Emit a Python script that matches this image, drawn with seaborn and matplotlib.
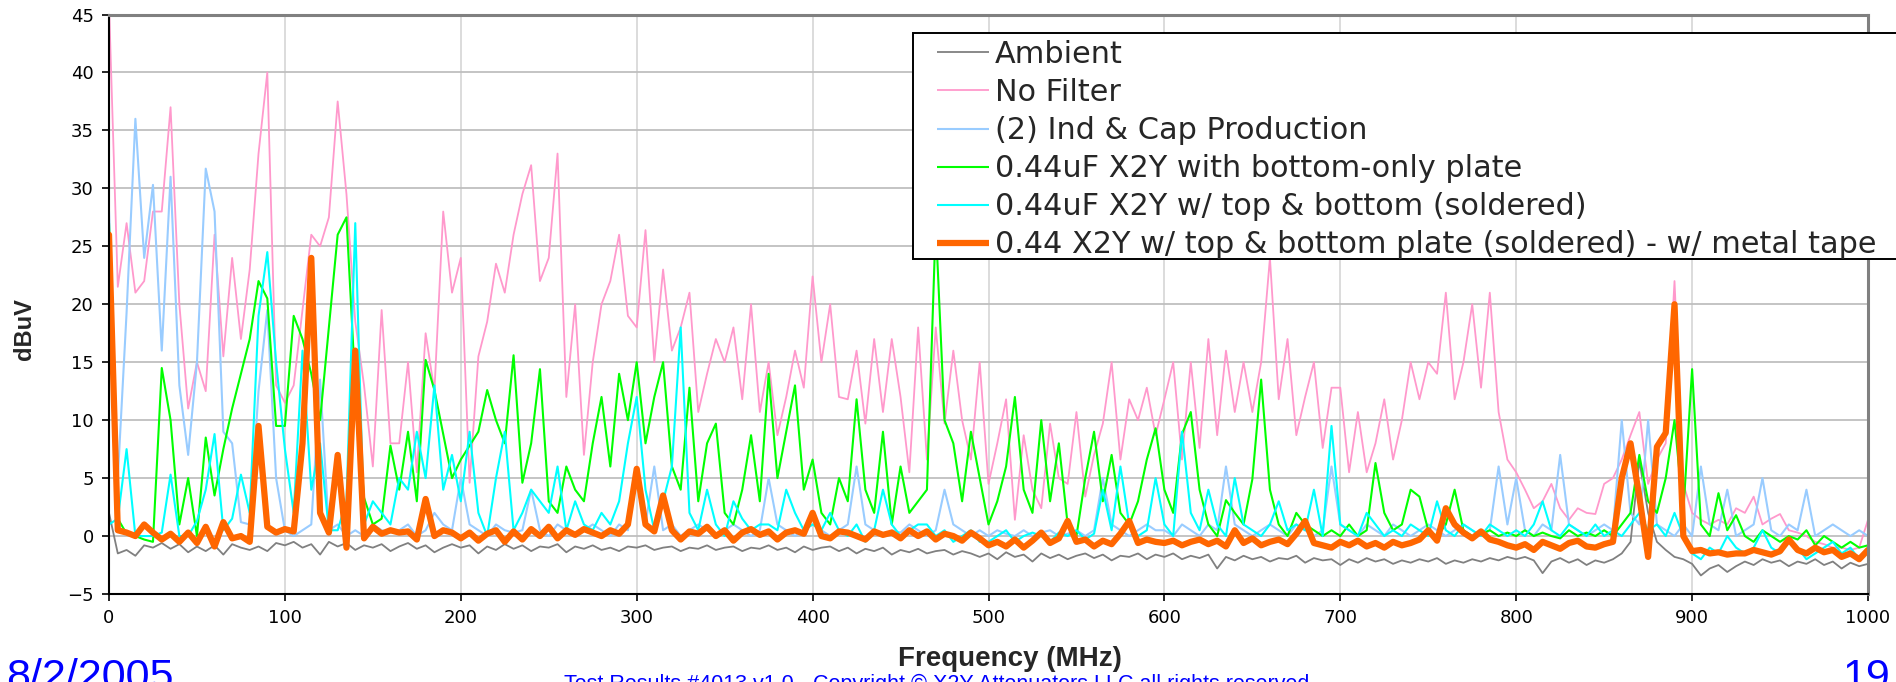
import numpy as np
import pandas as pd
import matplotlib
matplotlib.use("Agg")
import matplotlib.pyplot as plt
import matplotlib.patches as mpatches
import seaborn as sns

# ---------------- data (dBuV, 5 MHz steps, 0..1000 MHz) ----------------
freq_mhz = np.arange(0, 1001, 5)

ambient = [
    2.0, -1.5, -1.2, -1.7, -0.8, -1.0, -0.6, -1.1, -0.7, -1.4, -0.9, -1.3, -0.8, -1.6, -0.7, -1.0, -1.2, -0.9, -1.3, -0.6,
    -0.8, -0.5, -1.0, -0.7, -1.6, -0.5, -0.9, -0.6, -1.2, -0.8, -1.0, -0.7, -1.3, -0.9, -0.6, -1.1, -0.8, -1.4, -1.0, -0.7,
    -1.0, -0.8, -1.5, -0.9, -1.2, -0.7, -1.1, -0.8, -1.3, -0.9, -1.0, -0.7, -1.4, -0.9, -1.1, -0.8, -1.2, -1.0, -1.3, -0.9,
    -1.0, -0.8, -1.2, -1.0, -0.9, -1.3, -1.0, -1.1, -0.8, -1.2, -1.0, -0.9, -1.3, -1.0, -1.1, -0.8, -1.2, -1.0, -1.4, -0.9,
    -1.2, -1.0, -0.9, -1.3, -1.0, -1.5, -1.1, -1.3, -1.0, -1.6, -1.2, -1.4, -1.1, -1.5, -1.3, -1.2, -1.6, -1.3, -1.5, -1.8,
    -1.5, -2.0, -1.4, -1.8, -1.6, -2.2, -1.5, -1.9, -1.6, -2.0, -1.7, -1.5, -1.9, -1.6, -2.1, -1.7, -1.8, -1.5, -2.0, -1.6,
    -1.8, -1.5, -2.0, -1.7, -1.9, -1.6, -2.8, -1.8, -2.1, -1.7, -2.0, -1.8, -2.2, -1.9, -2.0, -1.7, -2.3, -1.9, -2.1, -2.0,
    -2.5, -2.0, -2.3, -1.9, -2.2, -2.0, -2.4, -2.1, -2.3, -2.0, -2.2, -1.9, -2.4, -2.1, -2.3, -2.0, -2.2, -1.9, -2.1, -1.8,
    -2.0, -1.8, -2.1, -3.2, -2.2, -1.9, -2.3, -2.0, -2.5, -2.1, -2.3, -2.0, -1.5, -0.5, 6.5, 2.0, -0.5, -1.2, -1.8, -2.0,
    -2.4, -3.4, -2.8, -2.5, -3.1, -2.6, -2.2, -2.5, -2.0, -2.3, -2.1, -2.6, -2.2, -2.4, -2.0, -2.5, -2.2, -2.8, -2.3, -2.6,
    -2.4,
]

no_filter = [
    46.0, 21.5, 27.0, 21.0, 22.0, 28.0, 28.0, 37.0, 20.0, 11.0, 15.0, 12.5, 26.0, 15.5, 24.0, 17.0, 23.0, 33.0, 40.0, 13.0,
    11.5, 13.0, 19.5, 26.0, 25.0, 27.5, 37.5, 29.5, 18.5, 13.0, 6.0, 19.5, 8.0, 8.0, 15.0, 5.5, 17.5, 12.5, 28.0, 21.0,
    24.0, 4.6, 15.5, 18.5, 23.5, 21.0, 26.0, 29.5, 32.0, 22.0, 24.0, 33.0, 12.0, 20.0, 7.0, 15.0, 20.0, 22.0, 26.0, 19.0,
    18.0, 26.4, 15.0, 23.0, 16.0, 18.0, 21.0, 10.7, 14.0, 17.0, 15.0, 18.0, 11.8, 20.0, 10.7, 15.0, 8.7, 12.0, 16.0, 12.8,
    22.4, 15.0, 20.0, 12.0, 11.8, 16.0, 9.7, 17.0, 10.7, 17.0, 12.0, 5.5, 18.0, 6.6, 18.0, 9.7, 16.0, 10.0, 6.6, 15.0,
    4.5, 8.0, 11.8, 1.4, 8.7, 4.0, 2.4, 9.7, 5.0, 4.5, 10.7, 3.4, 7.0, 9.7, 15.0, 6.6, 11.8, 10.0, 12.8, 8.7,
    11.8, 15.0, 6.6, 15.0, 7.6, 17.0, 8.7, 16.0, 10.7, 15.0, 10.7, 15.0, 24.0, 11.8, 17.0, 8.7, 12.0, 15.0, 7.6, 12.8,
    12.8, 5.5, 10.7, 5.5, 8.0, 11.8, 6.6, 10.0, 15.0, 11.8, 15.0, 14.0, 21.0, 11.8, 15.0, 20.0, 12.8, 21.0, 10.7, 6.6,
    5.5, 4.0, 2.4, 3.0, 4.5, 2.4, 1.4, 2.4, 2.0, 1.9, 4.5, 5.0, 6.6, 8.7, 10.7, 4.5, 6.6, 8.0, 22.0, 4.5,
    2.0, 1.4, 1.0, 1.4, 1.0, 2.4, 2.0, 3.4, 1.0, 1.5, 1.9, 0.5, 0.3, 0.0, -0.5, -0.7, -1.0, -1.0, -1.2, -1.0,
    1.4,
]

ind_cap = [
    28.0, 5.0, 19.3, 36.0, 24.0, 30.3, 16.0, 31.0, 13.0, 7.0, 15.0, 31.7, 28.0, 9.0, 8.0, 1.2, 1.0, 12.5, 19.5, 5.0,
    0.5, 0.0, 0.5, 1.0, 13.5, 0.5, 1.0, 0.0, 0.5, 0.0, 1.0, 0.5, 0.3, 0.5, 1.0, 0.0, 0.5, 2.0, 1.0, 0.5,
    5.0, 1.0, 0.5, 0.0, 1.0, 0.5, 0.3, 0.5, 4.0, 0.5, 0.0, 1.0, 0.5, 0.0, 0.5, 1.0, 0.5, 0.0, 1.0, 0.5,
    5.0, 1.0, 6.0, 0.5, 1.0, 0.0, 0.5, 1.0, 0.5, 0.0, 0.5, 1.0, 0.5, 0.0, 0.5, 5.0, 1.0, 0.5, 0.0, 0.5,
    1.0, 0.5, 0.0, 0.5, 1.0, 6.0, 1.0, 0.5, 0.0, 0.5, 0.3, 1.0, 0.5, 0.0, 0.5, 4.0, 1.0, 0.5, 0.0, 0.5,
    0.0, 0.5, 0.2, 0.0, 0.5, 0.0, 0.3, 0.5, 0.0, 0.2, 0.5, 0.0, 0.5, 5.0, 1.0, 0.5, 0.0, 0.5, 1.0, 0.5,
    0.5, 0.0, 1.0, 0.5, 0.0, 1.0, 0.5, 6.0, 1.0, 0.5, 0.0, 0.5, 1.0, 0.5, 0.0, 1.0, 0.5, 0.0, 0.5, 6.0,
    1.0, 0.5, 0.0, 1.0, 0.5, 0.0, 1.0, 0.5, 0.0, 0.5, 1.0, 0.5, 0.0, 0.5, 1.0, 0.5, 0.0, 0.5, 6.0, 1.0,
    5.0, 0.5, 0.0, 1.0, 0.5, 7.0, 1.0, 0.5, 0.0, 0.5, 1.0, 0.5, 10.0, 2.0, 1.0, 10.0, 1.0, 0.5, 0.0, 1.0,
    0.0, 6.0, 1.0, 0.5, 4.0, 0.0, 0.5, 1.0, 5.0, 0.5, 0.0, 1.0, 0.5, 4.0, 0.0, 0.5, 1.0, 0.5, 0.0, 0.5,
    0.0,
]

bottom_only = [
    27.0, 1.5, 0.2, 0.0, -0.3, -0.5, 14.5, 10.0, 1.0, 5.0, 0.0, 8.5, 3.5, 7.5, 11.0, 14.0, 17.0, 22.0, 20.5, 9.5,
    9.5, 19.0, 17.0, 14.0, 10.0, 18.0, 26.0, 27.5, 13.0, 3.3, 1.0, 1.5, 7.8, 4.0, 9.0, 3.0, 15.2, 12.6, 8.8, 5.0,
    6.6, 7.8, 9.0, 12.6, 10.0, 8.0, 15.6, 4.6, 8.0, 14.4, 3.0, 2.0, 6.0, 4.0, 3.0, 8.0, 12.0, 6.0, 14.0, 10.0,
    15.0, 8.0, 12.0, 15.0, 6.0, 4.0, 12.8, 3.0, 8.0, 9.7, 2.0, 1.0, 4.0, 8.7, 3.0, 14.0, 5.0, 9.0, 13.0, 4.0,
    6.6, 2.0, 1.0, 5.0, 3.0, 11.8, 4.0, 2.0, 9.0, 1.0, 6.0, 2.0, 3.0, 4.0, 27.0, 10.0, 8.0, 3.0, 9.0, 5.0,
    1.0, 3.0, 6.0, 12.0, 4.0, 2.0, 10.0, 3.0, 8.0, 1.0, 0.0, 5.0, 9.0, 3.0, 7.0, 2.0, 1.0, 3.0, 6.6, 9.3,
    4.0, 2.0, 8.8, 10.7, 4.0, 1.0, 0.0, 3.1, 2.0, 1.0, 4.9, 13.5, 4.0, 1.0, 0.0, 2.0, 1.0, 0.5, 0.0, 0.5,
    0.0, 1.0, 0.0, 0.5, 6.3, 2.0, 0.5, 1.0, 4.0, 3.4, 0.5, 0.0, 1.0, 4.0, 0.5, 0.0, 0.2, 0.5, 0.0, 0.3,
    0.0, 0.5, 0.0, 0.3, 0.0, -0.2, 0.5, 0.0, 0.3, 0.0, 0.5, 0.0, 1.0, 2.0, 7.0, 3.0, 2.0, 5.0, 10.0, 2.0,
    14.4, 1.0, 0.0, 3.7, 0.5, 1.8, 0.0, -0.5, 0.5, 0.0, -0.5, 0.0, -0.3, 0.5, -0.8, 0.0, -0.5, -1.0, -0.5, -1.0,
    -0.8,
]

top_bottom = [
    1.0, 1.5, 7.5, 0.0, 0.0, 0.0, 0.3, 5.3, 0.0, 0.0, 1.3, 4.0, 8.8, 0.5, 1.5, 5.3, 2.0, 19.0, 24.5, 15.0,
    7.5, 2.0, 16.0, 4.0, 8.0, 0.5, 0.5, 3.0, 27.0, 1.0, 3.0, 2.0, 1.0, 5.0, 4.0, 9.0, 5.0, 13.0, 4.0, 7.0,
    3.0, 9.0, 2.0, 0.0, 5.0, 9.0, 0.5, 2.0, 4.0, 3.0, 2.0, 6.0, 0.5, 3.0, 1.0, 0.5, 2.0, 1.0, 3.0, 8.0,
    12.0, 4.0, 0.5, 3.0, 6.0, 18.0, 2.0, 0.5, 4.0, 1.0, 0.0, 3.0, 1.5, 0.5, 1.0, 1.0, 0.5, 4.0, 2.0, 0.5,
    1.0, 0.5, 2.0, 0.5, 0.0, 1.0, -0.5, 0.5, 4.0, 1.0, 0.0, 0.5, 1.0, 1.0, 0.0, 0.5, -0.5, 0.0, 0.5, -0.5,
    -0.5, 0.0, 0.5, -0.5, 0.0, 0.3, 0.0, -0.5, 0.3, 0.0, 0.5, -0.3, 0.2, 4.0, 0.5, 6.0, 1.0, 0.0, 0.5, 5.0,
    1.0, 0.0, 9.0, 2.0, 0.5, 4.0, 1.0, 0.0, 5.0, 1.0, 0.5, 0.0, 1.0, 3.0, 0.5, 1.0, 0.5, 4.0, 0.0, 9.5,
    1.0, 0.5, 0.0, 2.0, 1.0, 0.0, 0.5, 0.0, 1.0, 0.5, 0.0, 3.0, 0.5, 0.0, 1.0, 0.5, 0.0, 1.0, 0.5, 0.0,
    0.5, 0.0, 1.0, 3.0, 0.5, 0.0, 1.0, 0.5, 0.0, 1.0, 0.0, 0.5, 0.0, 1.0, 2.0, 0.5, 1.0, 0.0, 2.0, 0.0,
    -1.5, -2.0, -1.0, -1.5, 0.0, -1.0, -1.5, -1.0, 0.5, -1.0, -1.5, -0.5, -1.0, -2.0, -1.5, -1.0, -0.5, -1.5, -1.0, -2.0,
    -1.0,
]

metal_tape = [
    26.0, 0.5, 0.3, 0.0, 1.0, 0.3, -0.3, 0.2, -0.5, 0.3, -0.6, 0.8, -0.9, 1.2, -0.2, 0.0, -0.5, 9.5, 0.8, 0.3,
    0.6, 0.4, 8.0, 24.0, 2.0, 0.3, 7.0, -1.0, 16.0, -0.2, 0.8, 0.2, 0.5, 0.3, 0.4, -0.3, 3.2, 0.0, 0.5, 0.3,
    -0.2, 0.3, -0.4, 0.2, 0.5, -0.5, 0.4, -0.3, 0.6, 0.0, 0.8, -0.2, 0.5, 0.1, 0.6, 0.3, 0.0, 0.5, 0.2, 1.0,
    5.8, 1.0, 0.4, 3.5, 0.5, -0.3, 0.4, 0.2, 0.8, 0.0, 0.5, -0.4, 0.3, 0.6, 0.1, 0.4, -0.3, 0.3, 0.5, 0.2,
    2.0, 0.0, -0.2, 0.4, 0.3, 0.0, -0.3, 0.4, 0.1, 0.3, -0.2, 0.5, 0.0, 0.4, -0.3, 0.2, 0.0, -0.4, 0.3, -0.2,
    -0.8, -0.5, -0.9, -0.3, -1.0, -0.4, 0.3, -0.6, -0.2, 1.3, -0.5, -0.3, -0.9, -0.4, -0.7, 0.2, 1.3, -0.6, -0.3, -0.5,
    -0.6, -0.4, -0.8, -0.5, -0.3, -0.7, -0.4, -0.9, 0.5, -0.6, -0.2, -0.8, -0.5, -0.3, -0.7, 0.2, 1.3, -0.6, -0.8, -1.0,
    -0.5, -0.8, -0.4, -0.9, -0.6, -1.0, -0.5, -0.8, -0.6, -0.3, 0.5, -0.4, 2.4, 1.0, 0.3, -0.2, 0.4, -0.3, -0.5, -0.8,
    -1.0, -0.7, -1.2, -0.5, -0.8, -1.1, -0.6, -0.4, -0.9, -1.0, -0.7, -0.5, 5.0, 8.0, 3.4, -1.8, 7.7, 8.9, 20.0, 0.0,
    -1.3, -1.2, -1.5, -1.4, -1.6, -1.5, -1.5, -1.2, -1.4, -1.6, -1.3, -0.3, -1.2, -1.5, -1.0, -1.4, -1.2, -1.8, -1.5, -2.0,
    -1.2,
]

series_names = [
    "Ambient",
    "No Filter",
    "(2) Ind & Cap Production",
    "0.44uF X2Y with bottom-only plate",
    "0.44uF X2Y w/ top & bottom (soldered)",
    "0.44 X2Y w/ top & bottom plate (soldered) - w/ metal tape",
]
series_values = [ambient, no_filter, ind_cap, bottom_only, top_bottom, metal_tape]
series_colors = ["#808080", "#FF99CC", "#99CCFF", "#00FF00", "#00FFFF", "#FF6600"]
series_widths = [1.3, 1.3, 1.5, 1.5, 1.5, 4.5]

x_ticks = list(range(0, 1001, 100))
y_ticks = list(range(-5, 46, 5))

# ---------------- drawing ----------------
sns.set_theme(style="white")
plt.rcParams["font.family"] = ["DejaVu Sans"]

W, H = 1896, 682
fig = plt.figure(figsize=(W / 100, H / 100), dpi=100)
AX_L, AX_R, AX_T, AX_B = 109, 1868, 14.5, 594
ax = fig.add_axes([AX_L / W, (H - AX_B) / H, (AX_R - AX_L) / W, (AX_B - AX_T) / H])

for name, vals, col, lw in zip(series_names, series_values, series_colors, series_widths):
    sns.lineplot(x=freq_mhz, y=vals, ax=ax, color=col, linewidth=lw, label=name,
                 solid_joinstyle="round", solid_capstyle="round")

ax.set_xlim(0, 1000)
ax.set_ylim(-5, 45)
ax.set_xticks(x_ticks)
ax.set_yticks(y_ticks)
ax.tick_params(axis="both", labelsize=13, colors="black", length=5, width=1.2,
               direction="out", left=True, bottom=True, pad=6)
ax.set_xlabel("")
ax.set_ylabel("")
ax.yaxis.grid(True, color="#BFBFBF", linewidth=1.3)
ax.xaxis.grid(True, color="#D9D9D9", linewidth=1.3)
ax.set_axisbelow(True)
for side in ["top", "right"]:
    ax.spines[side].set_color("#808080")
    ax.spines[side].set_linewidth(2.2)
for side in ["left", "bottom"]:
    ax.spines[side].set_color("black")
    ax.spines[side].set_linewidth(1.5)


def px_to_ax(xp, yp):
    return (xp - AX_L) / (AX_R - AX_L), (AX_B - yp) / (AX_B - AX_T)


# legend frame (box runs off the right edge of the slide, as in the reference)
bx0, by0 = px_to_ax(913, 259)
bx1, by1 = px_to_ax(1905, 33)
frame = mpatches.Rectangle((bx0, by0), bx1 - bx0, by1 - by0, transform=ax.transAxes,
                           facecolor="white", edgecolor="black", linewidth=1.4,
                           clip_on=False, zorder=4.5)
ax.add_patch(frame)

lx, ly = px_to_ax(937, 40)
leg = ax.legend(loc="upper left", bbox_to_anchor=(lx, ly), frameon=False,
                prop={"family": "DejaVu Sans", "size": 21.8}, labelspacing=0.30,
                borderpad=0.0, handlelength=1.72, handletextpad=0.2, borderaxespad=0)
leg.set_zorder(5)
for line in leg.get_lines():
    line.set_solid_capstyle("butt")

fig.text(1010 / W, 1 - 659 / H, "Frequency (MHz)", ha="center", va="center",
         fontsize=20, fontweight="bold", family="Liberation Sans")
fig.text(24 / W, 1 - 329 / H, "dBuV", ha="center", va="center", rotation=90,
         fontsize=17, fontweight="bold", family="Liberation Sans")
fig.text(6 / W, 1 - 658 / H, "8/2/2005", ha="left", va="top", fontsize=31,
         color="#0000FF", family="Liberation Sans")
fig.text(1890 / W, 1 - 658 / H, "19", ha="right", va="top", fontsize=31,
         color="#0000FF", family="Liberation Sans")
fig.text(937 / W, 1 - 674 / H,
         "Test Results #4013 v1.0 - Copyright \u00a9 X2Y Attenuators LLC all rights reserved",
         ha="center", va="top", fontsize=15.5, color="#0000FF", family="Liberation Sans")

fig.savefig("out.png", dpi=100)
